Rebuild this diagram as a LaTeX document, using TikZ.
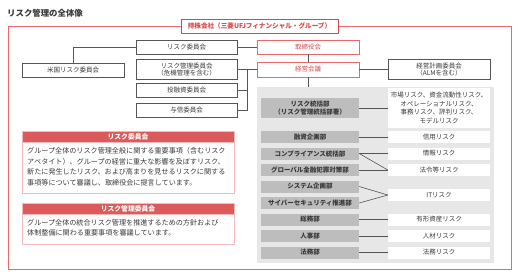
\documentclass[tikz,border=0pt]{standalone}
\usepackage{fontspec}
\setmainfont{Noto Sans CJK JP}
\definecolor{redf}{HTML}{E8686B}
\definecolor{redd}{HTML}{D9474C}
\definecolor{redh}{HTML}{DC5A5C}
\definecolor{pinkb}{HTML}{F4B9BB}
\definecolor{lgray}{HTML}{555555}
\definecolor{bgray}{HTML}{E7E7E7}
\definecolor{dgray}{HTML}{BDBDBD}
\definecolor{txt}{HTML}{3A3A3A}
\tikzset{
  base/.style={inner sep=0pt, align=center, font=\fontsize{6.5}{7.6}\selectfont, text=txt},
  wbox/.style={base, draw=lgray, fill=white, line width=0.6pt},
  rbox/.style={base, draw=redf, fill=white, line width=0.7pt, text=redd},
  dept/.style={base, fill=dgray, font=\bfseries\fontsize{6.5}{7.6}\selectfont, text=txt},
  risk/.style={base, fill=white},
  conn/.style={draw=lgray, line width=0.6pt},
  dhead/.style={inner sep=0pt, fill=redh, draw=pinkb, line width=0.6pt, text=white, font=\bfseries\fontsize{6.8}{8}\selectfont},
  dbody/.style={inner sep=0pt, fill=white, draw=pinkb, line width=0.7pt},
  dtext/.style={inner sep=0pt, align=left, anchor=north west, text=txt, font=\fontsize{7.1}{10.6}\selectfont},
}
\begin{document}
\begin{tikzpicture}[x=1pt,y=-1pt]
\useasboundingbox (0,0) rectangle (518,277);
% title
\node[anchor=west, inner sep=0pt, text=txt, font=\bfseries\fontsize{8.4}{9}\selectfont] (title) at (7,13) {リスク管理の全体像};
% outer frame
\draw[draw=redf, line width=1pt] (8,26) rectangle (511,269);
\node[base, draw=redd, fill=white, line width=1pt, text=redd, font=\bfseries\fontsize{6.6}{7.6}\selectfont, minimum width=157pt, minimum height=14pt] (hold) at (259.5,26) {持株会社（三菱UFJフィナンシャル・グループ）};
% committees
\node[wbox, minimum width=101pt, minimum height=14pt] (rc) at (186.5,47) {リスク委員会};
\node[rbox, minimum width=102pt, minimum height=14pt] (tori) at (308,47) {取締役会};
\node[wbox, minimum width=102pt, minimum height=14pt] (us) at (73,70) {米国リスク委員会};
\node[wbox, minimum width=101pt, minimum height=20pt] (rmc) at (186.5,69.5) {リスク管理委員会\\（危機管理を含む）};
\node[rbox, minimum width=102pt, minimum height=15pt] (keiei) at (308,69.5) {経営会議};
\node[wbox, minimum width=102pt, minimum height=20pt] (alm) at (439,69.5) {経営計画委員会\\（ALMを含む）};
\node[wbox, minimum width=101pt, minimum height=14pt] (toyu) at (186.5,90.5) {投融資委員会};
\node[wbox, minimum width=101pt, minimum height=14pt] (yosh) at (186.5,110) {与信委員会};
\coordinate (bus) at (247,69.5);
\draw[conn] (us.north) |- (rc.west);
\draw[conn] (rc.east) -- (tori.west);
\draw[conn] (tori.south) -- (keiei.north);
\draw[conn] (rmc.east) -- (keiei.west);
\draw[conn] (keiei.east) -- (alm.west);
\draw[conn] (bus) -- (bus |- yosh.east) -- (yosh.east);
\draw[conn] (toyu.east) -- (toyu.east -| bus);
% gray area
\node[inner sep=0pt, fill=bgray, draw=none, minimum width=237pt, minimum height=176pt] (grp) at (375.5,175) {};
\draw[conn] (keiei.south) -- (keiei.south |- grp.north);
% departments
\node[dept, minimum width=98pt, minimum height=20pt] (d1) at (310,108) {リスク統括部\\（リスク管理統括部署）};
\node[dept, minimum width=98pt, minimum height=12pt] (d2) at (310,137) {融資企画部};
\node[dept, minimum width=98pt, minimum height=12pt] (d3) at (310,153.5) {コンプライアンス統括部};
\node[dept, minimum width=98pt, minimum height=12pt] (d4) at (310,170) {グローバル金融犯罪対策部};
\node[dept, minimum width=98pt, minimum height=12pt] (d5) at (310,186.5) {システム企画部};
\node[dept, minimum width=98pt, minimum height=12pt] (d6) at (310,203) {サイバーセキュリティ推進部};
\node[dept, minimum width=98pt, minimum height=12pt] (d7) at (310,219.5) {総務部};
\node[dept, minimum width=98pt, minimum height=12pt] (d8) at (310,236) {人事部};
\node[dept, minimum width=98pt, minimum height=12pt] (d9) at (310,252.5) {法務部};
% risks
\node[risk, minimum width=102pt, minimum height=40pt, font=\fontsize{6.5}{8.6}\selectfont] (r1) at (439,108) {市場リスク、資金流動性リスク、\\オペレーショナルリスク、\\事務リスク、評判リスク、\\モデルリスク};
\node[risk, minimum width=102pt, minimum height=12pt] (r2) at (439,137) {信用リスク};
\node[risk, minimum width=102pt, minimum height=12pt] (r3) at (439,153.5) {情報リスク};
\node[risk, minimum width=102pt, minimum height=12pt] (r4) at (439,170) {法令等リスク};
\node[risk, minimum width=102pt, minimum height=12.5pt] (r5) at (439,195) {ITリスク};
\node[risk, minimum width=102pt, minimum height=12pt] (r6) at (439,219.5) {有形資産リスク};
\node[risk, minimum width=102pt, minimum height=12pt] (r7) at (439,236) {人材リスク};
\node[risk, minimum width=102pt, minimum height=12pt] (r8) at (439,252.5) {法務リスク};
\draw[conn] (d1.east) -- (r1.west);
\draw[conn] (d2.east) -- (r2.west);
\draw[conn] (d3.east) -- (r3.west);
\draw[conn] (d3.east) -- (r4.west);
\draw[conn] (d4.east) -- (r4.west);
\draw[conn] (d5.east) -- (r5.west);
\draw[conn] (d6.east) -- (r5.west);
\draw[conn] (d7.east) -- (r6.west);
\draw[conn] (d8.east) -- (r7.west);
\draw[conn] (d9.east) -- (r8.west);
% description boxes
\node[dbody, minimum width=212pt, minimum height=51pt] (b1) at (128,167.5) {};
\node[dhead, minimum width=212pt, minimum height=11pt] (h1) at (128,136.5) {リスク委員会};
\node[dtext] (t1) at (27,147.5) {グループ全体のリスク管理全般に関する重要事項（含むリスク\\アペタイト）、グループの経営に重大な影響を及ぼすリスク、\\新たに発生したリスク、および高まりを見せるリスクに関する\\事項等について審議し、取締役会に提言しています。};
\node[dbody, minimum width=212pt, minimum height=30pt] (b2) at (128,229) {};
\node[dhead, minimum width=212pt, minimum height=11pt] (h2) at (128,208.5) {リスク管理委員会};
\node[dtext] (t2) at (27,218.8) {グループ全体の統合リスク管理を推進するための方針および\\体制整備に関わる重要事項を審議しています。};
\end{tikzpicture}
\end{document}
